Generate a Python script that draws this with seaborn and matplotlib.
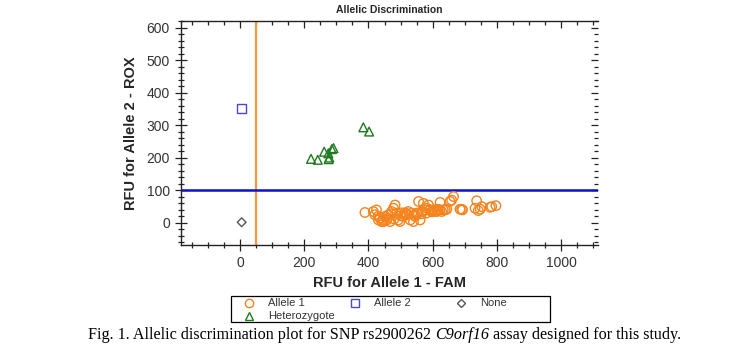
import matplotlib
matplotlib.use("Agg")
import matplotlib.pyplot as plt
from matplotlib.ticker import MultipleLocator
from matplotlib.lines import Line2D
from matplotlib.patches import Rectangle
import seaborn as sns
import pandas as pd

# RFU values
allele1_fam = [389, 415, 420, 425, 431, 436, 441, 447, 452, 457, 462, 467, 472, 478,
               483, 488, 493, 498, 503, 508, 514, 519, 524, 530, 535, 540, 545, 550,
               556, 561, 566, 571, 576, 582, 587, 592, 597, 602, 607, 613, 618, 623,
               623, 628, 633, 639, 644, 654, 659, 665, 685, 690, 693, 732, 737, 742,
               748, 753, 779, 784, 797, 430, 445, 460, 470, 480, 500, 510, 520, 545,
               555, 565, 580, 600, 615]
allele1_rox = [32, 35, 25, 40, 9, 15, 4, 4, 20, 9, 25, 4, 35, 45,
               55, 30, 9, 4, 31, 20, 31, 25, 35, 9, 30, 4, 25, 30,
               66, 9, 35, 60, 40, 45, 55, 40, 34, 40, 35, 35, 40, 63,
               40, 35, 40, 40, 42, 66, 70, 81, 42, 42, 40, 45, 68, 38,
               42, 50, 48, 50, 53, 20, 10, 15, 28, 12, 22, 25, 28, 20,
               30, 28, 30, 38, 42]
allele2_fam = [5]
allele2_rox = [352]
none_fam = [5]
none_rox = [2]
het_fam = [221, 242, 262, 275, 286, 291, 276, 278, 384, 402]
het_rox = [197, 194, 219, 214, 227, 230, 196, 201, 294, 281]

fam_threshold = 50
rox_threshold = 100

groups = [
    ("Allele 1", allele1_fam, allele1_rox),
    ("Allele 2", allele2_fam, allele2_rox),
    ("None", none_fam, none_rox),
    ("Heterozygote", het_fam, het_rox),
]
df = pd.concat([pd.DataFrame({"fam": x, "rox": y, "call": name}) for name, x, y in groups],
               ignore_index=True)

sns.set_style("ticks")
plt.rcParams["font.family"] = ["Liberation Sans", "DejaVu Sans"]

W, H = 756, 356
fig = plt.figure(figsize=(W / 100, H / 100), dpi=100)
ax = fig.add_axes([181 / W, 1 - 245 / H, 417 / W, 224 / H])

styles = {
    "Allele 1": dict(marker="o", color="#F5841F", s=46),
    "Allele 2": dict(marker="s", color="#4848E0", s=48),
    "None": dict(marker="D", color="#555555", s=20),
    "Heterozygote": dict(marker="^", color="#1E7A1E", s=40),
}

ax.axvline(fam_threshold, color="#F39A3A", lw=1.6, zorder=1)
ax.axhline(rox_threshold, color="#0A10D0", lw=1.8, zorder=1)

for name in ["Allele 1", "Allele 2", "None", "Heterozygote"]:
    st = styles[name]
    sub = df[df["call"] == name]
    sns.scatterplot(data=sub, x="fam", y="rox", ax=ax, marker=st["marker"], s=st["s"],
                    facecolor="none", edgecolor=st["color"], linewidth=1.0, zorder=3)

ax.set_xlim(-184, 1115)
ax.set_ylim(-68, 621)
ax.xaxis.set_major_locator(MultipleLocator(200))
ax.xaxis.set_minor_locator(MultipleLocator(50))
ax.yaxis.set_major_locator(MultipleLocator(100))
ax.yaxis.set_minor_locator(MultipleLocator(20))

ax.tick_params(which="both", direction="inout", colors="#222222",
               labelcolor="#333333", labelsize=10, width=0.9)
ax.tick_params(which="major", length=9)
ax.tick_params(which="minor", length=5)
for side in ["left", "bottom", "top"]:
    ax.spines[side].set_color("#222222")
    ax.spines[side].set_linewidth(1.0)
ax.spines["right"].set_visible(False)

# inward ticks on top and right edges
top = ax.secondary_xaxis("top")
top.xaxis.set_major_locator(MultipleLocator(200))
top.xaxis.set_minor_locator(MultipleLocator(50))
top.tick_params(which="both", direction="in", labeltop=False, colors="#222222", width=0.9)
top.tick_params(which="major", length=5)
top.tick_params(which="minor", length=3)
top.spines["top"].set_visible(False)
right = ax.secondary_yaxis("right")
right.yaxis.set_major_locator(MultipleLocator(100))
right.yaxis.set_minor_locator(MultipleLocator(20))
right.tick_params(which="both", direction="in", labelright=False, colors="#222222", width=0.9)
right.tick_params(which="major", length=5)
right.tick_params(which="minor", length=3)
right.spines["right"].set_visible(False)

ax.set_xlabel("RFU for Allele 1 - FAM", fontsize=10.5, fontweight="bold", labelpad=4)
ax.set_ylabel("RFU for Allele 2 - ROX", fontsize=10.5, fontweight="bold", labelpad=6)
ax.set_title("Allelic Discrimination", fontsize=7.5, fontweight="bold", pad=6)

# legend box with fixed column positions
fig.add_artist(Rectangle((231 / W, 1 - 322 / H), 319 / W, 26 / H, transform=fig.transFigure,
                         facecolor="none", edgecolor="black", lw=0.9))
legend_items = [("Allele 1", 249, 303), ("Allele 2", 355, 303), ("None", 461, 303),
                ("Heterozygote", 249, 316)]
for name, lx, ly in legend_items:
    st = styles[name]
    ms = 6 if name != "None" else 4.5
    fig.add_artist(Line2D([lx / W], [1 - ly / H], transform=fig.transFigure, marker=st["marker"],
                          markersize=ms, markerfacecolor="none", markeredgecolor=st["color"],
                          markeredgewidth=1.0, linestyle="none"))
    fig.text((lx + 19) / W, 1 - ly / H, name, fontsize=8, color="#333333", ha="left", va="center")

# caption with italic gene name
serif = ["Liberation Serif", "DejaVu Serif"]
parts = [("Fig. 1. Allelic discrimination plot for SNP rs2900262 ", "normal"),
         ("C9orf16", "italic"),
         (" assay designed for this study.", "normal")]
fig.canvas.draw()
renderer = fig.canvas.get_renderer()
x0 = 88
for txt, style in parts:
    t = fig.text(x0 / W, 1 - 339 / H, txt, family=serif, style=style, fontsize=11.6,
                 ha="left", va="baseline", color="black")
    x0 = t.get_window_extent(renderer).x1

fig.savefig("out.png", dpi=100)
